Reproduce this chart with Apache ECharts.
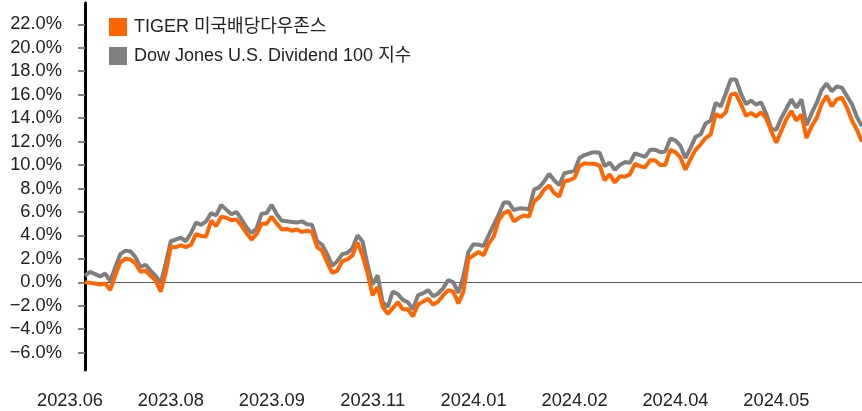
<!DOCTYPE html>
<html>
<head>
<meta charset="utf-8">
<script src="https://cdn.jsdelivr.net/npm/echarts@6/dist/echarts.min.js"></script>
<style>
  html, body { margin: 0; padding: 0; background: #ffffff; }
  #chart { width: 862px; height: 411px; }
</style>
</head>
<body>
<div id="chart"></div>
<script>
// ---- data ----
var tickLabels = ['2023.06', '2023.08', '2023.09', '2023.11', '2024.01', '2024.02', '2024.04', '2024.05'];
var pointsPerLabel = 20;

var seriesNames = ['TIGER 미국배당다우존스', 'Dow Jones U.S. Dividend 100 지수'];

var tigerValues = [
  0.0, -0.05, -0.1, -0.2, -0.1, -0.66, 0.6, 1.7, 2.0, 1.95,
  1.6, 0.9, 1.0, 0.55, 0.15, -0.8, 0.8, 3.04, 3.0, 3.15,
  3.0, 3.2, 4.1, 3.95, 3.9, 5.25, 4.8, 5.6, 5.5, 5.3,
  5.35, 4.85, 4.2, 3.65, 4.1, 5.0, 5.0, 5.6, 5.0, 4.5,
  4.55, 4.4, 4.5, 4.3, 4.4, 4.3, 3.0, 2.7, 1.7, 0.8,
  1.0, 1.8, 1.95, 2.3, 3.4, 2.3, 0.8, -1.1, -0.4, -2.1,
  -2.7, -2.2, -1.7, -2.3, -2.3, -2.9, -1.9, -1.65, -1.4, -1.9,
  -1.65, -1.1, -0.66, -0.8, -1.8, -0.8, 2.0, 2.3, 2.6, 2.3,
  3.3, 3.9, 5.3, 5.9, 6.1, 5.2, 5.5, 5.7, 5.6, 6.9,
  7.25, 7.9, 8.25, 7.6, 7.3, 8.6, 8.7, 8.9, 9.9, 10.15,
  10.1, 10.1, 9.95, 8.7, 9.2, 8.5, 9.05, 9.0, 9.2, 10.1,
  9.9, 9.8, 10.4, 10.4, 10.0, 10.0, 11.3, 11.1, 10.65, 9.6,
  10.5, 11.3, 11.75, 12.3, 12.6, 14.35, 14.1, 14.5, 16.0, 16.1,
  15.2, 14.2, 14.45, 14.15, 14.5, 14.0, 12.9, 11.9, 12.9, 13.9,
  14.6, 13.8, 14.3, 12.3, 13.3, 14.0, 15.2, 15.9, 15.0, 15.6,
  15.75, 14.9, 13.8, 13.0, 12.0
];

var dowValues = [
  0.55, 0.9, 0.7, 0.5, 0.75, 0.1, 1.3, 2.4, 2.7, 2.65,
  2.15, 1.3, 1.5, 1.0, 0.55, -0.1, 1.6, 3.5, 3.65, 3.8,
  3.5, 4.2, 5.1, 4.9, 5.2, 5.9, 5.7, 6.6, 6.2, 5.8,
  6.0, 5.4, 4.7, 4.2, 4.6, 5.85, 5.9, 6.6, 5.8, 5.25,
  5.2, 5.15, 5.1, 5.2, 4.95, 4.9, 3.5, 3.2, 2.4, 1.4,
  1.8, 2.4, 2.5, 2.9, 4.0, 3.5, 1.5, -0.2, 0.6, -1.7,
  -2.1, -0.8, -1.0, -1.5, -1.7, -2.3, -1.1, -0.95, -0.66, -1.2,
  -0.95, -0.5, 0.2, 0.0, -0.9, 0.5, 2.6, 3.25, 3.2, 3.1,
  4.0, 4.9, 5.8, 6.8, 6.8, 6.15, 6.3, 6.3, 6.2, 7.9,
  8.1, 8.6, 9.25, 8.7, 8.3, 9.3, 9.4, 9.5, 10.6, 10.85,
  11.0, 11.1, 11.05, 9.9, 10.2, 9.6, 10.0, 10.25, 10.2, 11.0,
  10.85, 10.7, 11.3, 11.3, 11.1, 11.15, 12.25, 12.1, 11.65, 10.6,
  11.45, 12.4, 12.6, 13.55, 13.8, 15.3, 15.0, 16.1, 17.3, 17.3,
  16.1, 15.2, 15.5, 15.15, 15.35, 14.4, 13.1, 13.0, 14.0, 14.8,
  15.6, 14.9, 15.6, 13.4, 14.4, 15.3, 16.4, 16.95, 16.3, 16.7,
  16.6, 15.9, 15.2, 14.1, 13.3
];

var yTickValues = [-6, -4, -2, 0, 2, 4, 6, 8, 10, 12, 14, 16, 18, 20, 22];

// ---- build categories from the tick labels ----
var categories = [];
for (var i = 0; i < tigerValues.length; i++) {
  categories.push(tickLabels[Math.min(Math.floor(i / pointsPerLabel), tickLabels.length - 1)]);
}

var FONT = '"Liberation Sans", "Noto Sans CJK KR", Arial, sans-serif';
var chart = echarts.init(document.getElementById('chart'), null, { renderer: 'canvas' });

chart.setOption({
  animation: false,
  backgroundColor: '#ffffff',
  textStyle: { fontFamily: FONT },
  grid: { left: 85, right: 0, top: 3, bottom: 41, containLabel: false },
  legend: {
    orient: 'vertical',
    left: 104,
    top: 13,
    itemWidth: 18,
    itemHeight: 18,
    itemGap: 11,
    icon: 'rect',
    data: [seriesNames[0], seriesNames[1]],
    textStyle: { fontFamily: FONT, fontSize: 18, color: '#222222', padding: [0, 0, 0, 2] }
  },
  xAxis: {
    type: 'category',
    data: categories,
    boundaryGap: false,
    axisLine: { show: false, onZero: false },
    axisTick: { show: false },
    splitLine: { show: false },
    axisLabel: {
      interval: pointsPerLabel - 1,
      fontFamily: FONT,
      fontSize: 18.3,
      color: '#222222',
      margin: 22,
      padding: [0, 30, 0, 0]
    }
  },
  yAxis: {
    type: 'value',
    min: -7.48,
    max: 23.82,
    axisLine: { show: true, lineStyle: { color: '#000000', width: 3 } },
    axisTick: {
      show: true, inside: false, length: 7,
      customValues: yTickValues,
      lineStyle: { color: '#808080', width: 2 }
    },
    splitLine: { show: false },
    axisLabel: {
      customValues: yTickValues,
      fontFamily: FONT,
      fontSize: 18.3,
      color: '#222222',
      margin: 23,
      formatter: function (v) {
        var s = Math.abs(v).toFixed(1) + '%';
        return v < 0 ? '\u2212' + s : s;
      }
    }
  },
  series: [
    {
      name: seriesNames[1],
      type: 'line',
      data: dowValues,
      symbol: 'none',
      lineStyle: { color: '#7f7f7f', width: 4 },
      itemStyle: { color: '#7f7f7f' },
      z: 2,
      markLine: {
        silent: true,
        symbol: 'none',
        label: { show: false },
        lineStyle: { color: '#595959', width: 1, type: 'solid' },
        data: [{ yAxis: 0 }],
        z: 1
      }
    },
    {
      name: seriesNames[0],
      type: 'line',
      data: tigerValues,
      symbol: 'none',
      lineStyle: { color: '#ff6600', width: 4 },
      itemStyle: { color: '#ff6600' },
      z: 3
    }
  ]
});
</script>
</body>
</html>
